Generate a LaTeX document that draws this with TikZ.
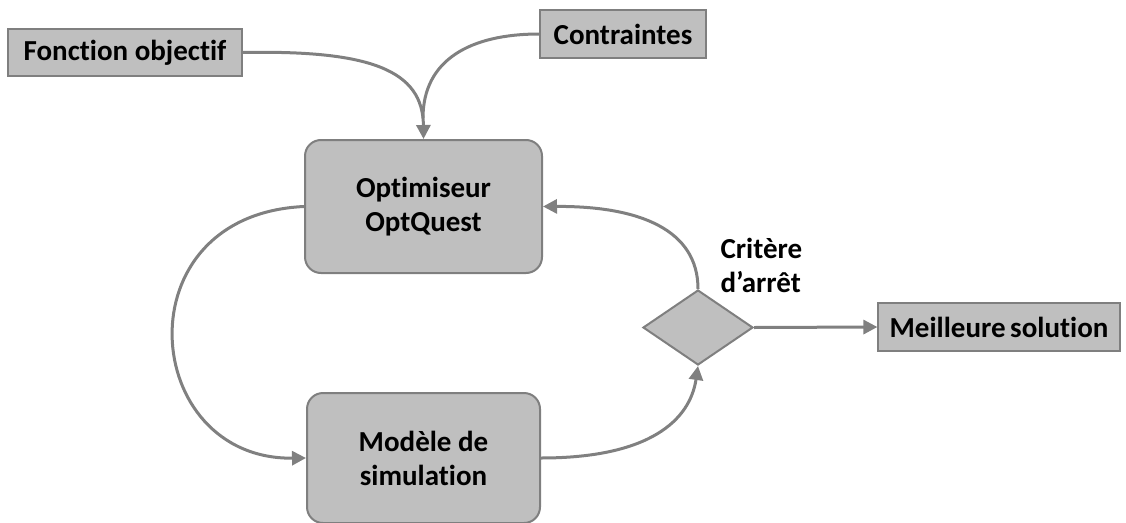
\documentclass[tikz,border=0pt]{standalone}
\usepackage{fontspec}
\setmainfont{Carlito}[Ligatures=NoCommon]
\usetikzlibrary{shapes.geometric,arrows.meta}
\definecolor{boxfill}{HTML}{BFBFBF}
\definecolor{boxline}{HTML}{7F7F7F}
\definecolor{arrowc}{HTML}{808080}
\begin{document}
\begin{tikzpicture}[x=1pt,y=-1pt,
  lab/.style={font=\fontsize{29}{34}\selectfont\bfseries, text=black},
  flatbox/.style={lab, draw=boxline, line width=1.2pt, fill=boxfill, inner sep=0pt},
  roundbox/.style={lab, draw=boxline, line width=2pt, fill=boxfill, rounded corners=16pt, inner sep=0pt, align=center},
  conn/.style={draw=arrowc, line width=3pt, -{Triangle[length=14pt,width=14pt]}},
  plain/.style={draw=arrowc, line width=3pt}]
\useasboundingbox (0,0) rectangle (1126,522);
\node[flatbox, minimum width=234pt, minimum height=47pt] (fo) at (125,52.5) {Fonction objectif};
\node[flatbox, minimum width=166pt, minimum height=48pt] (ct) at (623,34) {Contraintes};
\node[roundbox, minimum width=237pt, minimum height=133pt] (opt) at (423.5,206.5) {Optimiseur\\OptQuest};
\node[roundbox, minimum width=233pt, minimum height=130pt] (sim) at (423.5,458) {Modèle de\\simulation};
\node[diamond, draw=boxline, line width=2pt, fill=boxfill, minimum width=110pt, minimum height=75pt, inner sep=0pt] (dec) at (698,327.5) {};
\node[flatbox, minimum width=242pt, minimum height=48pt] (best) at (999,327) {Meilleure\hspace{-2pt} solution};
\node[lab, align=left, anchor=west] (crit) at (717,265) {Critère\\d’arrêt};
\draw[conn] (fo.east) .. controls (370,50) and (423,70) .. (opt.north);
\draw[plain] (ct.west) .. controls (470,34) and (423,60) .. (423,118);
\draw[conn] (opt.west) .. controls (120,215) and (140,460) .. (sim.west);
\draw[conn] (sim.east) .. controls (650,458) and (690,420) .. (dec.south);
\draw[conn] (dec.north) .. controls (698,230) and (640,206) .. (opt.east);
\draw[conn] (dec.east) -- (best.west);
\end{tikzpicture}
\end{document}
